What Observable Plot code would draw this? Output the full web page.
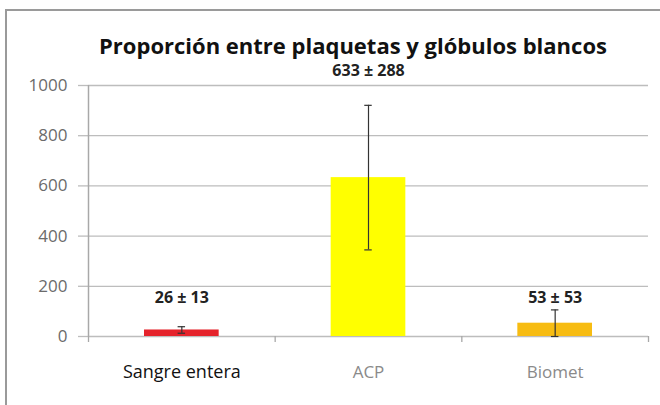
<!DOCTYPE html>
<html>
<head>
<meta charset="utf-8">
<script src="https://cdn.jsdelivr.net/npm/d3@7"></script>
<script src="https://cdn.jsdelivr.net/npm/@observablehq/plot@0.6"></script>
<style>
  html, body { margin: 0; padding: 0; background: #fff; }
  #wrap { position: relative; width: 660px; height: 405px; overflow: hidden; background: #fff; }
  #frame { position: absolute; left: 5px; top: 9px; width: 670px; height: 420px;
           border-left: 2px solid #9a9a9a; border-top: 2px solid #9a9a9a; box-sizing: border-box; }
  #title { position: absolute; left: 46px; width: 614px; top: 32px; line-height: 26px; text-align: center;
           font-family: "Open Sans", sans-serif; font-weight: bold; font-size: 22px; color: #111; }
  #plot { position: absolute; left: 0; top: 50px; }
</style>
</head>
<body>
<div id="wrap">
  <div id="frame"></div>
  <div id="plot"></div>
  <div id="title">Proporción entre plaquetas y glóbulos blancos</div>
</div>
<script>
const categories = ["Sangre entera", "ACP", "Biomet"];
const means = [26, 633, 53];
const sds = [13, 288, 53];
const valueLabels = ["26 ± 13", "633 ± 288", "53 ± 53"];
const barColors = ["#e5232b", "#ffff00", "#f7bc12"];
const labelColors = ["#111111", "#8a8a8a", "#8a8a8a"];
const yTicks = [0, 200, 400, 600, 800, 1000];

const data = categories.map((c, i) => ({
  cat: c, i, mean: means[i], sd: sds[i], label: valueLabels[i],
  color: barColors[i], labelColor: labelColors[i]
}));
const labelY = [155, 1058, 155];
const boundaries = d3.range(categories.length + 1);

const chart = Plot.plot({
  width: 660,
  height: 355,
  marginTop: 35,
  marginBottom: 69,
  marginLeft: 88,
  marginRight: 12,
  x: { domain: [0, categories.length], axis: null },
  y: { domain: [0, 1000], axis: null },
  color: { type: "identity" },
  style: { fontFamily: "'Open Sans', sans-serif", background: "transparent" },
  marks: [
    Plot.gridY(yTicks, { stroke: "#bdbdbd", strokeOpacity: 1, strokeWidth: 1.3 }),
    Plot.axisY(yTicks, { label: null, tickSize: 10, tickPadding: 11, stroke: "#bdbdbd", strokeWidth: 1.3,
                         fill: "#6b6b6b", fontSize: 17, tickFormat: d => String(d) }),
    Plot.ruleX([0], { y1: 0, y2: 1000, stroke: "#a8a8a8", strokeWidth: 1.5 }),
    Plot.ruleX(boundaries, { y1: 0, y2: -24, stroke: "#a8a8a8", strokeWidth: 1.3 }),
    Plot.rectY(data, { x1: d => d.i + 0.3, x2: d => d.i + 0.7, y: "mean", fill: "color" }),
    Plot.ruleX(data, { x: d => d.i + 0.5, y1: d => Math.max(0, d.mean - d.sd), y2: d => d.mean + d.sd,
                       stroke: "#333", strokeWidth: 1.2 }),
    Plot.ruleY(data, { y: d => d.mean + d.sd, x1: d => d.i + 0.48, x2: d => d.i + 0.52,
                       stroke: "#333", strokeWidth: 1.2 }),
    Plot.ruleY(data, { y: d => d.mean - d.sd, x1: d => d.i + 0.48, x2: d => d.i + 0.52,
                       stroke: "#333", strokeWidth: 1.2 }),
    Plot.text(data, { x: d => d.i + 0.5, y: (d, i) => labelY[i], text: "label",
                      fontWeight: "bold", fontSize: 16, fill: "#222" }),
    Plot.text(data, { x: d => d.i + 0.5, y: 0, dy: 36, dx: 0, text: "cat", fill: "labelColor",
                      fontSize: d => d.i === 0 ? 18 : 17 })
  ]
});
document.getElementById("plot").appendChild(chart);
</script>
</body>
</html>
